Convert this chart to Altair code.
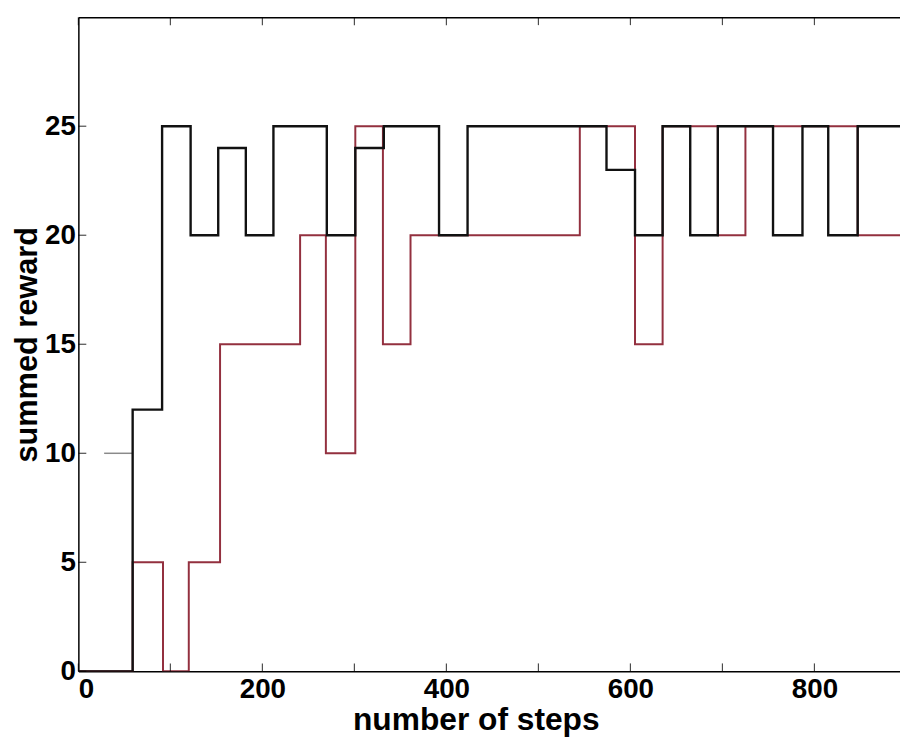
import altair as alt
import pandas as pd

# ---- data ----
black_x = [0, 59, 91, 122, 152, 182, 212, 270, 301, 332, 392, 423, 574, 605, 635, 665, 695, 755, 787, 815, 847, 893]
black_y = [0, 12, 25, 20, 24, 20, 25, 20, 24, 25, 20, 25, 23, 20, 25, 20, 25, 20, 25, 20, 25, 25]

red_x = [0, 59, 92, 120, 154, 241, 269, 301, 331, 361, 545, 605, 635, 695, 725, 847, 893]
red_y = [0, 5, 0, 5, 15, 20, 10, 25, 15, 20, 25, 15, 25, 20, 25, 20, 20]

gray_x = [28, 59]
gray_y = [10, 10]

x_ticks = [0, 100, 200, 300, 400, 500, 600, 700, 800]
x_labels = [0, 200, 400, 600, 800]
y_ticks = [0, 5, 10, 15, 20, 25]

X_MAX = 893
Y_MAX = 30
W, H = 829, 660

black = pd.DataFrame({"x": black_x, "y": black_y})
red = pd.DataFrame({"x": red_x, "y": red_y})
gray = pd.DataFrame({"x": gray_x, "y": gray_y})
xt = pd.DataFrame({"t": x_ticks})
yt = pd.DataFrame({"t": y_ticks})

FONT = "Liberation Sans"

xscale = alt.Scale(domain=[0, X_MAX], nice=False, zero=False)
yscale = alt.Scale(domain=[0, Y_MAX], nice=False)

x_axis = alt.Axis(values=x_labels, tickSize=0, labelFontSize=28, labelFont=FONT,
                  labelFontWeight="bold", labelColor="black", labelPadding=4,
                  domainColor="black", domainWidth=1.5, grid=False,
                  title="number of steps", titleFontSize=32, titleFont=FONT,
                  titleFontWeight="bold", titleColor="black", titlePadding=2,
                  titleX=401)
y_axis = alt.Axis(values=y_ticks, tickSize=0, labelFontSize=28, labelFont=FONT,
                  labelFontWeight="bold", labelColor="black", labelPadding=3,
                  domainColor="black", domainWidth=1.5, grid=False,
                  title="summed reward", titleFontSize=31, titleFont=FONT,
                  titleFontWeight="bold", titleColor="black", titlePadding=1)

red_line = alt.Chart(red).mark_line(interpolate="step-after", color="#93303f",
                                    strokeWidth=2, clip=True).encode(
    x=alt.X("x:Q", scale=xscale, axis=x_axis),
    y=alt.Y("y:Q", scale=yscale, axis=y_axis),
)

gray_line = alt.Chart(gray).mark_line(color="#8a8a8a", strokeWidth=1.5).encode(
    x=alt.X("x:Q", scale=xscale, axis=None),
    y=alt.Y("y:Q", scale=yscale),
)

black_line = alt.Chart(black).mark_line(interpolate="step-after", color="#111111",
                                        strokeWidth=2.4, clip=True).encode(
    x=alt.X("x:Q", scale=xscale, axis=None),
    y=alt.Y("y:Q", scale=yscale),
)

top_axis = alt.Chart(xt).mark_tick(orient="vertical", size=8, thickness=1.2,
                                   color="black").encode(
    x=alt.X("t:Q", scale=xscale,
            axis=alt.Axis(orient="top", labels=False, ticks=False, title=None,
                          domainColor="black", domainWidth=1.5, grid=False)),
    y=alt.value(4),
)

bottom_ticks = alt.Chart(xt).mark_tick(orient="vertical", size=8, thickness=1.2,
                                       color="black").encode(
    x=alt.X("t:Q", scale=xscale, axis=None),
    y=alt.value(H - 4),
)

left_ticks = alt.Chart(yt).mark_tick(orient="horizontal", size=8, thickness=1.2,
                                     color="black").encode(
    y=alt.Y("t:Q", scale=yscale),
    x=alt.value(4),
)

chart = alt.layer(red_line, gray_line, black_line, bottom_ticks, left_ticks, top_axis).resolve_axis(
    x="independent"
).properties(
    width=W, height=H,
    autosize=alt.AutoSizeParams(type="none"),
    padding={"left": 71, "top": 6, "right": 0, "bottom": 66},
    background="white",
).configure_view(stroke=None)

chart.save("out.html", embed_options={"renderer": "svg", "actions": False})
